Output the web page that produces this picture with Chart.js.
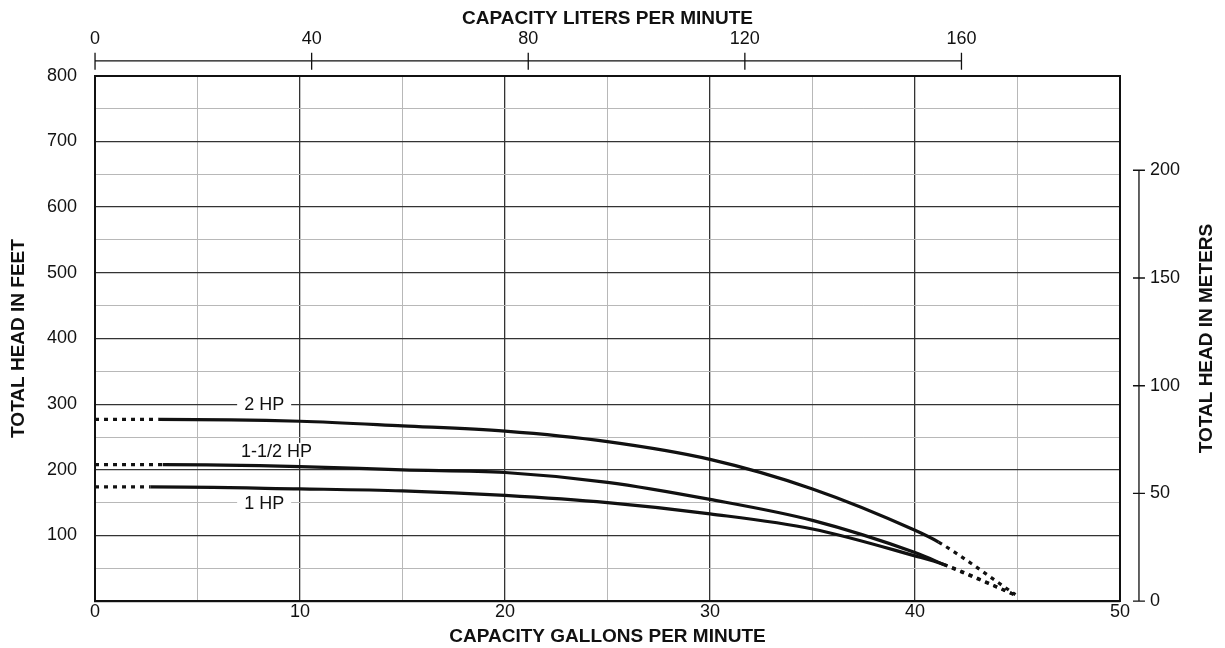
<!DOCTYPE html>
<html>
<head>
<meta charset="utf-8">
<title>Pump performance curves</title>
<script src="https://cdn.jsdelivr.net/npm/chart.js@4/dist/chart.umd.min.js"></script>
<style>
  body { margin: 0; background: #fff; }
</style>
</head>
<body>
<canvas id="pumpChart" width="1225" height="648"></canvas>
<script>
// curve readings: capacity in gpm, head in feet
const hp2Gpm = [0, 3.1, 10, 15, 20, 25, 30, 35, 40, 41.15, 44.9];
const hp2Feet = [277, 277, 274, 267, 259, 243, 216, 171, 108, 90, 10];

const hp15Gpm = [0, 3.3, 10, 15, 20, 25, 30, 35, 40, 41.4, 45];
const hp15Feet = [208, 208, 205, 200, 196, 181, 155, 123, 74, 56, 8];

const hp1Gpm = [0, 2.7, 10, 15, 20, 25, 30, 35, 40, 41.4, 45];
const hp1Feet = [174, 174, 171, 168, 161, 150, 133, 110, 69, 56, 8];

const curveNames = ["2 HP", "1-1/2 HP", "1 HP"];
// where each curve name sits (gpm, feet)
const nameGpm = [8.25, 8.85, 8.25];
const nameFeet = [300, 229, 150];

const literTicks = [0, 40, 80, 120, 160];
const meterTicks = [0, 50, 100, 150, 200];

const LITERS_PER_GALLON = 3.785411784;
const METERS_PER_FOOT = 0.3048;
const GPM_MAX = 50;
const FEET_MAX = 800;

const ink = "#111";
const majorGrid = "#333";
const minorGrid = "#b8b8b8";

Chart.defaults.font.family = "'Liberation Sans', Arial, sans-serif";
Chart.defaults.color = ink;

function toPoints(xs, ys) {
  return xs.map((x, i) => ({ x: x, y: ys[i] }));
}

function curve(label, xs, ys) {
  const last = xs.length - 1;
  return {
    label: label,
    data: toPoints(xs, ys),
    borderColor: ink,
    borderWidth: 3.2,
    pointRadius: 0,
    cubicInterpolationMode: "monotone",
    segment: {
      // extrapolated ends are dotted
      borderDash: ctx => (ctx.p0DataIndex === 0 || ctx.p1DataIndex === last) ? [4, 5] : undefined,
    },
  };
}

const titleFont = { size: 19, weight: "bold", lineHeight: 1 };
const tickFont = { size: 18, lineHeight: 1.1 };

const extraAxes = {
  id: "extraAxes",
  beforeDatasetsDraw(chart) {
    const ctx = chart.ctx;
    const x = chart.scales.x;
    const y = chart.scales.y;
    ctx.save();
    ctx.font = "18px 'Liberation Sans', Arial, sans-serif";
    ctx.textAlign = "center";
    ctx.textBaseline = "middle";
    curveNames.forEach((name, i) => {
      const px = x.getPixelForValue(nameGpm[i]);
      const py = y.getPixelForValue(nameFeet[i]);
      const w = ctx.measureText(name).width;
      ctx.fillStyle = "#fff";
      ctx.fillRect(px - w / 2 - 7, py - 8, w + 14, 16);
      ctx.fillStyle = ink;
      ctx.fillText(name, px, py + 1);
    });
    ctx.restore();
  },
  afterDraw(chart) {
    const ctx = chart.ctx;
    const area = chart.chartArea;
    const top = chart.scales.x2;
    const right = chart.scales.y2;
    ctx.save();
    ctx.strokeStyle = ink;
    ctx.lineWidth = 1.3;

    // liters axis, floating above the grid
    const ly = area.top - 15;
    ctx.beginPath();
    ctx.moveTo(top.getPixelForValue(literTicks[0]), ly);
    ctx.lineTo(top.getPixelForValue(literTicks[literTicks.length - 1]), ly);
    literTicks.forEach(v => {
      const px = top.getPixelForValue(v);
      ctx.moveTo(px, ly - 8);
      ctx.lineTo(px, ly + 9);
    });
    ctx.stroke();

    // meters axis, floating right of the grid
    const mx = area.right + 19;
    ctx.beginPath();
    ctx.moveTo(mx, right.getPixelForValue(meterTicks[0]));
    ctx.lineTo(mx, right.getPixelForValue(meterTicks[meterTicks.length - 1]));
    meterTicks.forEach(v => {
      const py = right.getPixelForValue(v);
      ctx.moveTo(mx - 6, py);
      ctx.lineTo(mx + 6, py);
    });
    ctx.stroke();

    // right title reads bottom to top
    ctx.translate(chart.width - 18, (area.top + area.bottom) / 2);
    ctx.rotate(-Math.PI / 2);
    ctx.font = "bold 19px 'Liberation Sans', Arial, sans-serif";
    ctx.textAlign = "center";
    ctx.textBaseline = "middle";
    ctx.fillStyle = ink;
    ctx.fillText("TOTAL HEAD IN METERS", 0, 0);
    ctx.restore();
  },
};

new Chart(document.getElementById("pumpChart"), {
  type: "line",
  data: {
    datasets: [
      curve(curveNames[0], hp2Gpm, hp2Feet),
      curve(curveNames[1], hp15Gpm, hp15Feet),
      curve(curveNames[2], hp1Gpm, hp1Feet),
    ],
  },
  options: {
    responsive: false,
    animation: false,
    layout: { padding: { left: 0, right: 40, top: 0, bottom: 0 } },
    plugins: {
      legend: { display: false },
      tooltip: { enabled: false },
    },
    scales: {
      x: {
        type: "linear",
        position: "bottom",
        min: 0,
        max: GPM_MAX,
        ticks: {
          stepSize: 5,
          font: tickFont,
          padding: 1,
          maxRotation: 0,
          callback: v => (v % 10 === 0 ? v : ""),
        },
        grid: {
          drawTicks: false,
          color: c => (c.tick && c.tick.value % 10 === 0 ? majorGrid : minorGrid),
          lineWidth: c => (c.tick && c.tick.value % 10 === 0 ? 1.3 : 1),
        },
        border: { color: ink, width: 2 },
        title: {
          display: true,
          text: "CAPACITY GALLONS PER MINUTE",
          font: titleFont,
          padding: { top: 4, bottom: 2 },
        },
      },
      x2: {
        type: "linear",
        position: "top",
        min: 0,
        max: GPM_MAX * LITERS_PER_GALLON,
        afterBuildTicks: s => { s.ticks = literTicks.map(v => ({ value: v })); },
        ticks: { font: tickFont, padding: 1, maxRotation: 0, autoSkip: false },
        grid: { drawOnChartArea: false, drawTicks: true, tickLength: 26, color: "rgba(0,0,0,0)" },
        border: { color: ink, width: 2 },
        title: {
          display: true,
          text: "CAPACITY LITERS PER MINUTE",
          font: titleFont,
          padding: { top: 9, bottom: 0 },
        },
      },
      y: {
        type: "linear",
        position: "left",
        min: 0,
        max: FEET_MAX,
        ticks: {
          stepSize: 50,
          font: tickFont,
          padding: 18,
          callback: v => (v % 100 === 0 && v > 0 ? v : ""),
        },
        grid: {
          drawTicks: false,
          color: c => (c.tick && c.tick.value % 100 === 0 ? majorGrid : minorGrid),
          lineWidth: c => (c.tick && c.tick.value % 100 === 0 ? 1.3 : 1),
        },
        border: { color: ink, width: 2 },
        title: {
          display: true,
          text: "TOTAL HEAD IN FEET",
          font: titleFont,
          padding: { top: 9, bottom: 1 },
        },
      },
      y2: {
        type: "linear",
        position: "right",
        min: 0,
        max: FEET_MAX * METERS_PER_FOOT,
        afterBuildTicks: s => { s.ticks = meterTicks.map(v => ({ value: v })); },
        ticks: { font: tickFont, padding: 5, autoSkip: false },
        grid: { drawOnChartArea: false, drawTicks: true, tickLength: 25, color: "rgba(0,0,0,0)" },
        border: { color: ink, width: 2 },
      },
    },
  },
  plugins: [extraAxes],
});
</script>
</body>
</html>
